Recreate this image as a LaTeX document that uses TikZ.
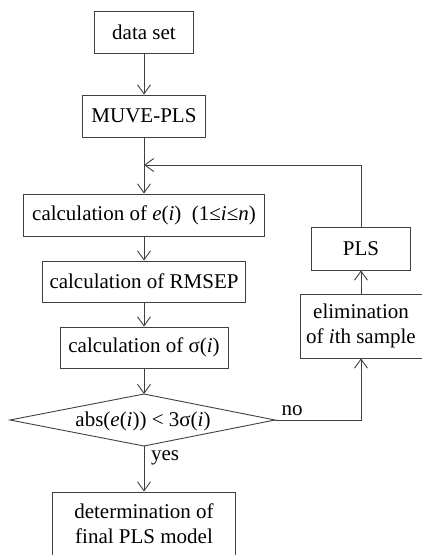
\documentclass[tikz,border=0pt]{standalone}
\usepackage{fontspec}
\setmainfont{Liberation Serif}
\usetikzlibrary{arrows.meta}
\begin{document}
\begin{tikzpicture}[x=1pt,y=-1pt,
  every node/.style={font=\fontsize{21}{25}\selectfont},
  box/.style={draw=black!75, line width=0.9pt, inner sep=0pt, align=center},
  link/.style={draw=black!75, line width=0.9pt, -{Straight Barb[length=9pt,width=13pt,line width=0.9pt]}},
  plain/.style={draw=black!75, line width=0.9pt}]
\useasboundingbox (0,0) rectangle (422,555);
\clip (0,0) rectangle (422,555);

% main column
\node[box, minimum width=99pt,  minimum height=42pt] (data)  at (144,32)  {data set};
\node[box, minimum width=123pt, minimum height=42pt] (muve)  at (144,116) {MUVE-PLS};
\node[box, minimum width=241pt, minimum height=42pt] (calce) at (144,215) {calculation of \textit{e}(\textit{i})~~(1≤\textit{i}≤\textit{n})};
\node[box, minimum width=203pt, minimum height=41pt] (rmsep) at (144,281.5) {calculation of RMSEP};
\node[box, minimum width=168pt, minimum height=41pt] (sigma) at (144,347.5) {calculation of σ(\textit{i})};

% decision
\coordinate (dtop) at (144,394);
\coordinate (dbot) at (144,446);
\coordinate (dleft) at (10,420);
\coordinate (dright) at (275,420);
\draw[plain] (dtop) -- (dright) -- (dbot) -- (dleft) -- cycle;
\node (cond) at (143,421) {abs(\textit{e}(\textit{i})) < 3σ(\textit{i})};

\node[box, minimum width=183pt, minimum height=64pt] (final) at (144,524) {determination of\\final PLS model};

% loop branch
\node[box, minimum width=99pt,  minimum height=43pt] (pls)  at (361,248.5) {PLS};
\node[box, minimum width=122pt, minimum height=64pt] (elim) at (361,326) {elimination\\of \textit{i}th sample};

% connectors
\coordinate (join) at (144,165);
\coordinate (loopc) at (361,165);
\coordinate (noc) at (361,420);

\draw[link] (data.south) -- (muve.north);
\draw[link] (muve.south) -- (calce.north);
\draw[link] (calce.south) -- (rmsep.north);
\draw[link] (rmsep.south) -- (sigma.north);
\draw[link] (sigma.south) -- (dtop);
\draw[link] (dbot) -- (final.north);
\draw[link] (pls.north) -- (loopc) -- (join);
\draw[link] (dright) -- (noc) -- (elim.south);
\draw[link] (elim.north) -- (pls.south);

% branch labels
\node[anchor=base] (no)  at (292,415) {no};
\node[anchor=base] (yes) at (165,460) {yes};
\end{tikzpicture}
\end{document}
